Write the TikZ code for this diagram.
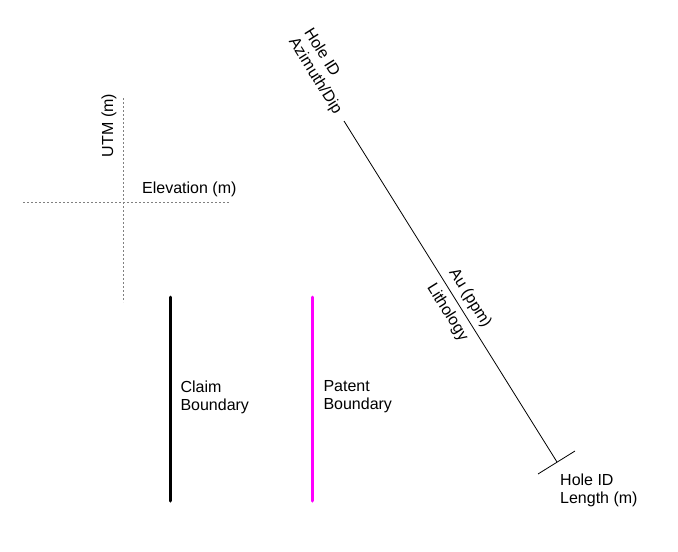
\documentclass[tikz,border=0pt]{standalone}
\usepackage{fontspec}
\setmainfont{Liberation Sans}
\usetikzlibrary{positioning}
\definecolor{patentpink}{RGB}{255,0,255}

\begin{document}
\begin{tikzpicture}[x=1pt,y=1pt,
    font=\fontsize{16}{18}\selectfont,
    grid line/.style={gray, line width=0.7pt, dash pattern=on 2pt off 2pt},
    boundary/.style={line width=3pt, line cap=round},
    hole/.style={line width=0.8pt},
    lbl/.style={inner sep=0pt, align=left, text=black}]
            \useasboundingbox (0,0) rectangle (678,-552);
            % section grid
            \coordinate (utm_top) at (123,-98);
            \coordinate (utm_bot) at (123,-302);
            \coordinate (elev_l)  at (23,-202);
            \coordinate (elev_r)  at (229,-202);
            \draw[grid line] (utm_top) -- (utm_bot);
            \draw[grid line] (elev_l) -- (elev_r);
            \node[lbl, rotate=90] (utm) at (109,-125.5) {UTM (m)};
            \node[lbl, anchor=west] (elev) at (142,-189) {Elevation (m)};
            % boundaries
            \coordinate (claim_top)  at (170,-297);
            \coordinate (claim_bot)  at (170,-501);
            \coordinate (patent_top) at (312,-297);
            \coordinate (patent_bot) at (312,-501);
            \draw[boundary] (claim_top) -- (claim_bot)
                node[lbl, midway, anchor=west, xshift=9pt, yshift=2pt] (claim) {Claim\\Boundary};
            \draw[boundary, patentpink] (patent_top) -- (patent_bot)
                node[lbl, midway, anchor=west, xshift=10pt, yshift=2pt] (patent) {Patent\\Boundary};
            % drill hole
            \coordinate (collar) at (344,-121);
            \coordinate (toe)    at (557,-462);
            \coordinate (tick_a) at (538,-474);
            \coordinate (tick_b) at (575,-451);
            \draw[hole] (collar) -- (toe)
                node[pos=0.54, sloped, above, inner sep=5pt] (au) {Au (ppm)}
                node[pos=0.54, sloped, below, inner sep=6pt] (lith) {Lithology};
            \draw[hole] (tick_a) -- (tick_b);
            \node[lbl, rotate=-58, anchor=east, xshift=-10pt, yshift=8pt] (hole_id) at (collar) {Hole ID\\Azimuth/Dip};
            \node[lbl, anchor=north west] (hole_len) [below right=12pt and 3pt of toe] {Hole ID\\Length (m)};
\end{tikzpicture}
\end{document}
